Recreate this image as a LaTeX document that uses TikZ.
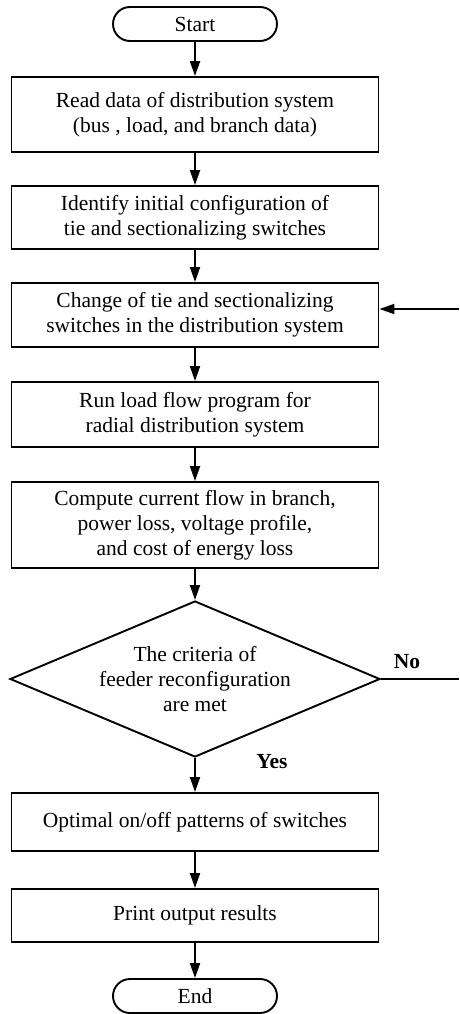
\documentclass[tikz,border=0pt]{standalone}
\usepackage{fontspec}
\setmainfont{Liberation Serif}
\usetikzlibrary{shapes.geometric,arrows.meta}
\newcommand{\flowfont}{\fontsize{21.5}{25}\selectfont}
\begin{document}
\begin{tikzpicture}[x=1pt,y=-1pt,line width=1.9pt,
  box/.style={draw,rectangle,minimum width=367pt,align=center,inner sep=0pt,font=\flowfont},
  term/.style={draw,rectangle,rounded corners=17pt,minimum width=164pt,minimum height=34pt,inner sep=0pt,font=\flowfont},
  dec/.style={draw,diamond,aspect=2.37,minimum width=370pt,minimum height=156pt,inner sep=0pt,align=center,font=\flowfont},
  arr/.style={-{Triangle[length=15pt,width=10pt]}},
  lbl/.style={font=\bfseries\flowfont}]
\useasboundingbox (0,0) rectangle (459,1014);
\node[term] (start) at (195,24) {Start};
\node[box,minimum height=75pt] (read) at (195,114.5) {Read data of distribution system\\(bus , load, and branch data)};
\node[box,minimum height=63pt] (ident) at (195,217.5) {Identify initial configuration of\\tie and sectionalizing switches};
\node[box,minimum height=64pt] (change) at (195,315) {Change of tie and sectionalizing\\switches in the distribution system};
\node[box,minimum height=65pt] (run) at (195,414.5) {Run load flow program for\\radial distribution system};
\node[box,minimum height=86pt] (comp) at (195,525) {Compute current flow in branch,\\power loss, voltage profile,\\and cost of energy loss};
\node[dec] (dec) at (195,679) {The criteria of\\feeder reconfiguration\\are met};
\node[box,minimum height=58pt] (opt) at (195,822) {Optimal on/off patterns of switches};
\node[box,minimum height=53pt] (print) at (195,915.5) {Print output results};
\node[term] (end) at (195,996) {End};
\node[lbl] (no) at (407,662) {No};
\node[lbl] (yes) at (272,762) {Yes};
\coordinate (fb) at (459,309);
\coordinate (noend) at (459,679);
\draw[arr] (start) -- (read);
\draw[arr] (read) -- (ident);
\draw[arr] (ident) -- (change);
\draw[arr] (change) -- (run);
\draw[arr] (run) -- (comp);
\draw[arr] (comp) -- (dec);
\draw[arr] (dec) -- (opt);
\draw[arr] (opt) -- (print);
\draw[arr] (print) -- (end);
\draw (dec.east) -- (noend);
\draw[arr] (fb) -- (change.east |- fb);
\end{tikzpicture}
\end{document}
